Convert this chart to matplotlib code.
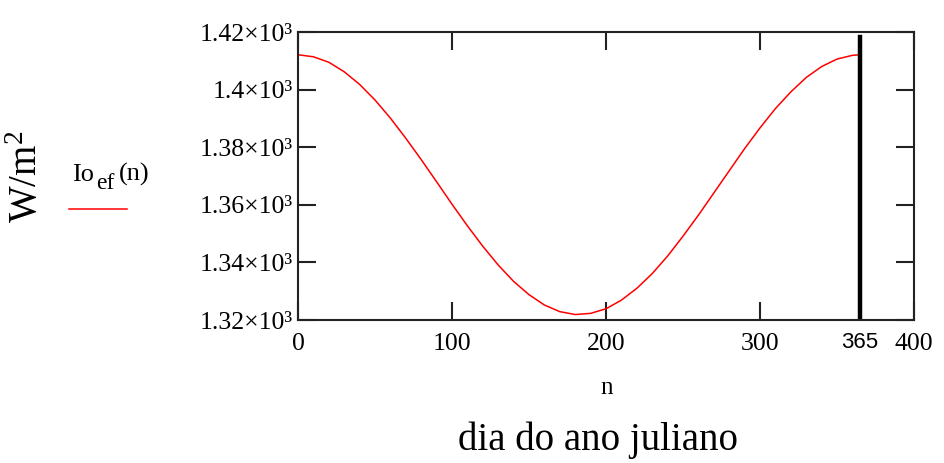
import numpy as np
import matplotlib.pyplot as plt

# Io_ef(n), W/m^2
dias = [0, 10, 20, 30, 40, 50, 60, 70, 80, 90, 100, 110, 120, 130, 140,
        150, 160, 170, 180, 190, 200, 210, 220, 230, 240, 250, 260, 270,
        280, 290, 300, 310, 320, 330, 340, 350, 360, 365]
io_ef = [1412.1, 1411.4, 1409.5, 1406.2, 1401.8, 1396.4, 1390.1, 1383.1,
         1375.7, 1368.0, 1360.2, 1352.7, 1345.6, 1339.1, 1333.4, 1328.8,
         1325.2, 1322.9, 1321.9, 1322.3, 1323.9, 1326.9, 1331.0, 1336.1,
         1342.2, 1349.1, 1356.4, 1364.1, 1371.8, 1379.5, 1386.7, 1393.4,
         1399.2, 1404.2, 1408.0, 1410.6, 1411.9, 1412.1]

y_ticks = [1320, 1340, 1360, 1380, 1400, 1420]
x_ticks = [0, 100, 200, 300, 400]
dia_final = 365

plt.rcParams['font.family'] = 'Liberation Serif'
plt.rcParams['mathtext.fontset'] = 'custom'
plt.rcParams['mathtext.rm'] = 'Liberation Serif'
plt.rcParams['mathtext.it'] = 'Liberation Serif'

W, H = 944, 463
fig = plt.figure(figsize=(W / 100, H / 100), dpi=100)
ax = fig.add_axes([298/W, 1 - 320/H, 616/W, 288/H])

ax.plot(dias, io_ef, color='red', lw=1.1)
ax.axvline(dia_final, ymax=0.983, color='black', lw=3.2)

ax.set_xlim(0, 400)
ax.set_ylim(1320, 1420)
ax.set_xticks(x_ticks)
ax.set_yticks(y_ticks)
ax.set_yticklabels(['%g×10³' % (v / 1000) for v in y_ticks])
ax.set_xticklabels([str(v) for v in x_ticks])
ax.tick_params(direction='in', length=13, width=1.5, labelsize=18.5,
               top=True, right=True, pad=4, colors='#222222', labelcolor='black')
ax.tick_params(axis='x', pad=9)
for s in ax.spines.values():
    s.set_linewidth(1.5)
    s.set_color('#222222')

# marcador do dia 365
ax.text(dia_final, 1320 - 4.0, str(dia_final), transform=ax.transData,
        ha='center', va='top', fontsize=16, family='Liberation Sans')

fig.text(607/W, 1 - 388/H, 'n', ha='center', va='center', fontsize=18)
fig.text(598/W, 1 - 440/H, 'dia do ano juliano', ha='center', va='center', fontsize=28)
fig.text(27/W, 1 - 177/H, r'W/m$\mathregular{^2}$', ha='center', va='center',
         rotation=90, fontsize=28)

# legenda: Io_ef(n)
fig.text(72/W, 1 - 181/H, 'Io', ha='left', va='baseline', fontsize=19)
fig.text(96/W, 1 - 189/H, 'ef', ha='left', va='baseline', fontsize=17)
fig.text(119/W, 1 - 181/H, '(n)', ha='left', va='baseline', fontsize=19)
fig.add_artist(plt.Line2D([69/W, 127/W], [1 - 209/H, 1 - 209/H],
                          color='red', lw=1.1, transform=fig.transFigure))

fig.savefig('out.png', dpi=100)
